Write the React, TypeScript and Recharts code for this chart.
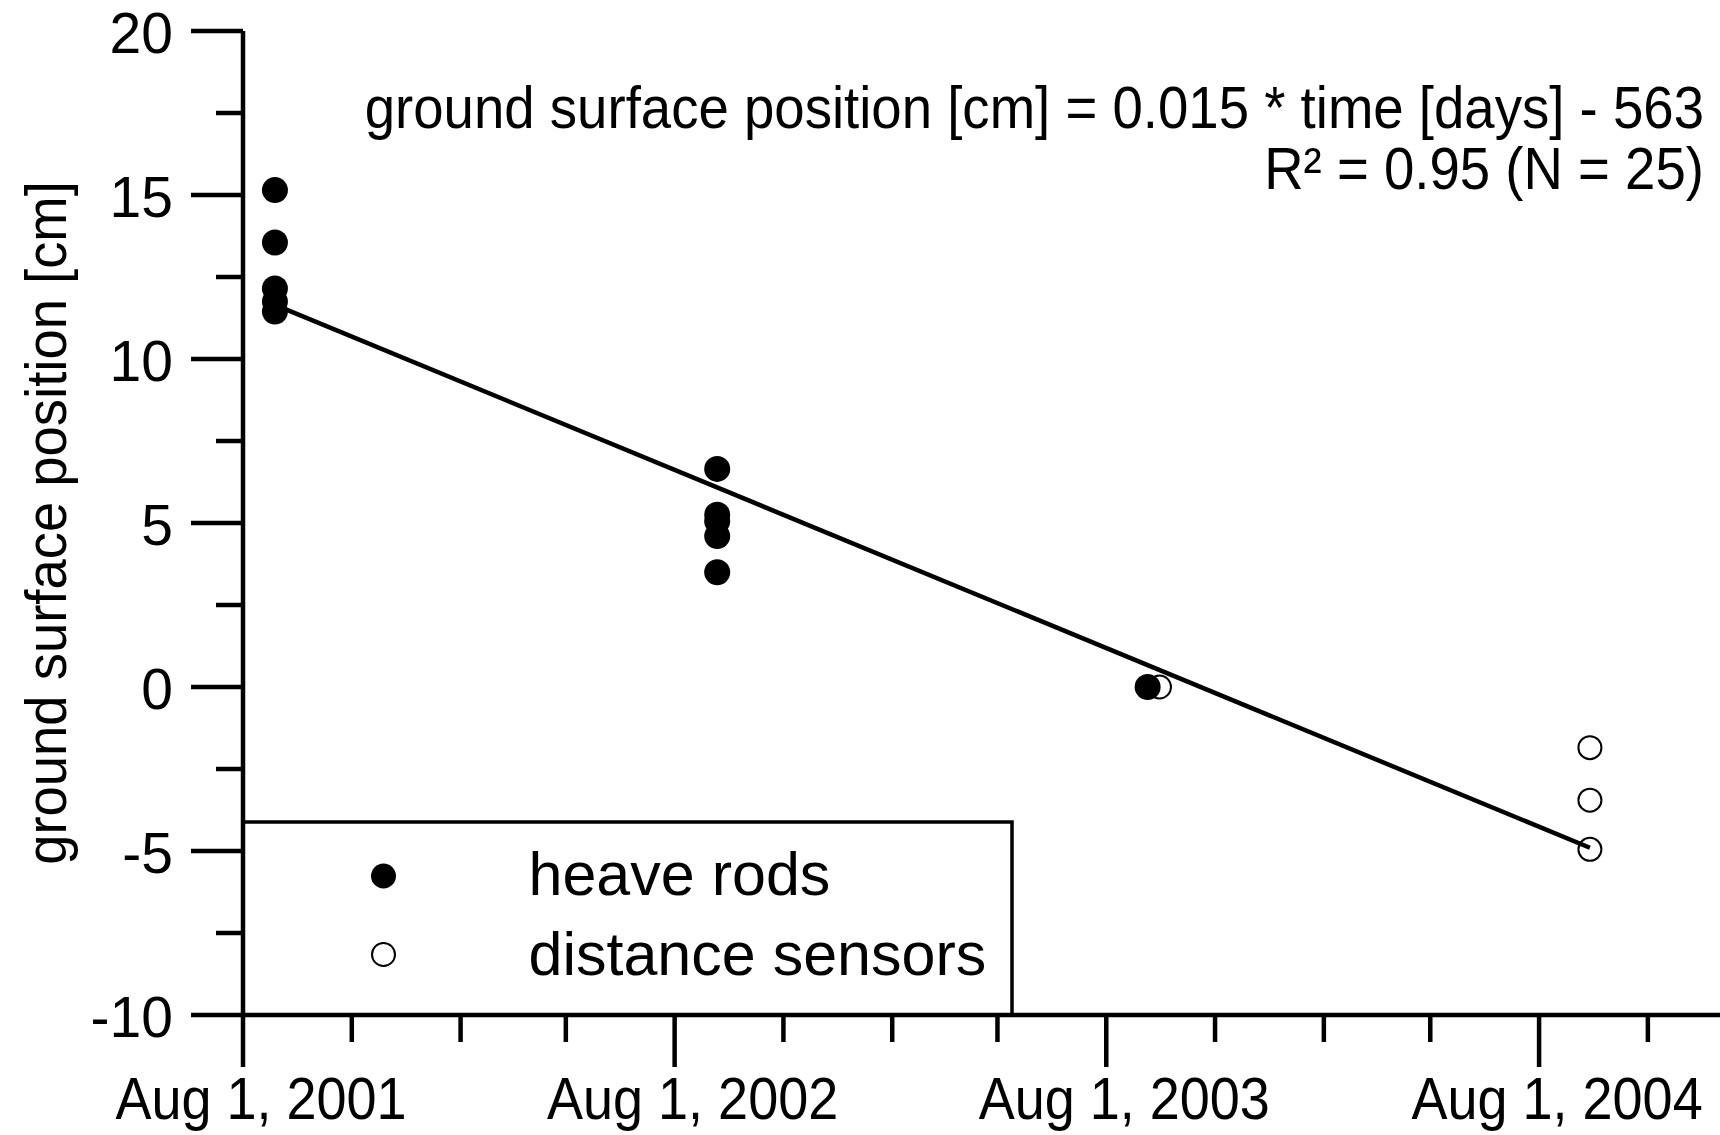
import React from 'react';
import { ScatterChart, Scatter, XAxis, YAxis, Legend } from 'recharts';

const FONT = '"Liberation Sans", Arial, Helvetica, sans-serif';

// x values are days since Aug 1, 2001
const xTickDays = [0, 92, 184, 273, 365, 457, 549, 638, 730, 822, 914, 1004, 1096, 1188];
const majorTickDays = [0, 365, 730, 1096];
const majorTickLabels = ['Aug 1, 2001', 'Aug 1, 2002', 'Aug 1, 2003', 'Aug 1, 2004'];

const yTicks = [-10, -7.5, -5, -2.5, 0, 2.5, 5, 7.5, 10, 12.5, 15, 17.5, 20];
const yLabelTicks = [-10, -5, 0, 5, 10, 15, 20];

const heaveRodDays = [27, 27, 27, 27, 27, 401, 401, 401, 401, 401, 765];
const heaveRodValues = [15.15, 13.55, 12.15, 11.75, 11.45, 6.65, 5.25, 5.05, 4.6, 3.5, 0];

const sensorDays = [775, 1139, 1139, 1139];
const sensorValues = [0, -1.85, -3.45, -4.95];

const fitDays = [27, 1139];
const fitValues = [11.65, -4.9];

const seriesNames = ['heave rods', 'distance sensors'];
const equationText = 'ground surface position [cm] = 0.015 * time [days] - 563';
const r2Text = 'R\u00B2 = 0.95 (N = 25)';
const yAxisTitle = 'ground surface position [cm]';

const heaveData = heaveRodDays.map((d, i) => ({ x: d, y: heaveRodValues[i] }));
const sensorData = sensorDays.map((d, i) => ({ x: d, y: sensorValues[i] }));
const fitData = fitDays.map((d, i) => ({ x: d, y: fitValues[i] }));

const LW = 4.5;

const SText = (props: any) => {
  const { x, y, sx = 1, anchor = 'start', size, rotate = 0, children } = props;
  return (
    <text
      transform={`translate(${x},${y}) rotate(${rotate}) scale(${sx},1)`}
      textAnchor={anchor}
      fontSize={size}
      fontFamily={FONT}
      fill="#000"
    >
      {children}
    </text>
  );
};

const XTick = (props: any) => {
  const { x, y, payload } = props;
  const idx = majorTickDays.indexOf(payload.value);
  const major = idx >= 0;
  return (
    <g>
      <line x1={x} x2={x} y1={y} y2={y + (major ? 52 : 27)} stroke="#000" strokeWidth={LW} />
      {major && (
        <SText x={x + 18} y={y + 104} sx={0.9} anchor="middle" size={60}>
          {majorTickLabels[idx]}
        </SText>
      )}
    </g>
  );
};

const YTick = (props: any) => {
  const { x, y, payload } = props;
  const major = yLabelTicks.indexOf(payload.value) >= 0;
  return (
    <g>
      <line x1={x - (major ? 52 : 27)} x2={x} y1={y} y2={y} stroke="#000" strokeWidth={LW} />
      {major && (
        <SText x={x - 70} y={y + 22} sx={1.0} anchor="end" size={57}>
          {String(payload.value)}
        </SText>
      )}
    </g>
  );
};

const FilledDot = (props: any) => {
  const { cx, cy } = props;
  return <circle cx={cx} cy={cy} r={13} fill="#000" />;
};

const OpenDot = (props: any) => {
  const { cx, cy } = props;
  return <circle cx={cx} cy={cy} r={11.5} fill="none" stroke="#000" strokeWidth={2} />;
};

const NoDot = () => <g />;

const LegendBox = () => (
  <svg width={773} height={197} style={{ display: 'block' }}>
    <rect x={2} y={2} width={769} height={193} fill="none" stroke="#000" strokeWidth={3.5} />
    <circle cx={142.5} cy={56} r={12.5} fill="#000" />
    <SText x={287.5} y={75} size={61}>{seriesNames[0]}</SText>
    <circle cx={142.5} cy={134.5} r={11.5} fill="none" stroke="#000" strokeWidth={2} />
    <SText x={287.5} y={155} size={61}>{seriesNames[1]}</SText>
  </svg>
);

const YTitle = (props: any) => {
  const vb = props.viewBox || { x: 0, y: 0, width: 243, height: 984 };
  const cx = 66;
  const cy = vb.y + vb.height / 2;
  return (
    <SText x={cx} y={cy} rotate={-90} sx={0.955} anchor="middle" size={57}>
      {yAxisTitle}
    </SText>
  );
};

export default function App() {
  return (
    <div style={{ position: 'absolute', left: 0, top: 0, width: 1720, height: 1135, background: '#fff' }}>
      <ScatterChart
        width={1720}
        height={1135}
        margin={{ top: 31, right: 0, bottom: 0, left: 0 }}
      >
        <XAxis
          type="number"
          dataKey="x"
          domain={[0, 1249]}
          ticks={xTickDays}
          interval={0}
          allowDataOverflow
          height={120}
          tickSize={0}
          tickMargin={0}
          tickLine={false}
          axisLine={{ stroke: '#000', strokeWidth: LW }}
          tick={<XTick />}
        />
        <YAxis
          type="number"
          dataKey="y"
          domain={[-10, 20]}
          ticks={yTicks}
          interval={0}
          allowDataOverflow
          width={243}
          tickSize={0}
          tickMargin={0}
          tickLine={false}
          axisLine={{ stroke: '#000', strokeWidth: LW }}
          tick={<YTick />}
          label={<YTitle />}
        />
        <Legend
          layout="vertical"
          align="center"
          verticalAlign="middle"
          wrapperStyle={{ position: 'absolute', left: 241, top: 820, width: 773, height: 197 }}
          content={() => <LegendBox />}
        />
        <Scatter
          name="fit"
          data={fitData}
          line={{ stroke: '#000', strokeWidth: LW }}
          shape={<NoDot />}
          legendType="none"
          isAnimationActive={false}
        />
        <Scatter
          name={seriesNames[1]}
          data={sensorData}
          shape={<OpenDot />}
          isAnimationActive={false}
        />
        <Scatter
          name={seriesNames[0]}
          data={heaveData}
          shape={<FilledDot />}
          isAnimationActive={false}
        />
      </ScatterChart>
      <svg
        width={1720}
        height={220}
        style={{ position: 'absolute', left: 0, top: 0, pointerEvents: 'none' }}
      >
        <SText x={1704} y={128} sx={0.925} anchor="end" size={59}>
          {equationText}
        </SText>
        <SText x={1704} y={189} sx={0.925} anchor="end" size={59}>
          {r2Text}
        </SText>
      </svg>
    </div>
  );
}
